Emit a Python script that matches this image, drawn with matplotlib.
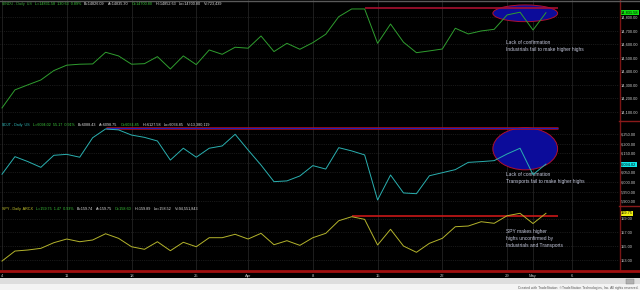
import matplotlib
matplotlib.use("Agg")
import matplotlib.pyplot as plt
from matplotlib.patches import Ellipse, Rectangle
from matplotlib.lines import Line2D
from matplotlib.ticker import FuncFormatter

# daily closes, trading days 4 Mar .. 2 May (index 0..42)
indu = [14130, 14263, 14300, 14336, 14405, 14445, 14452, 14454, 14540, 14513,
        14452, 14456, 14508, 14417, 14513, 14449, 14557, 14525, 14577, 14570,
        14660, 14545, 14606, 14562, 14611, 14673, 14802, 14859, 14859, 14606,
        14748, 14614, 14537, 14550, 14564, 14717, 14675, 14697, 14709, 14815,
        14835, 14704, 14831.58]

djt = [6041, 6133, 6107, 6077, 6140, 6145, 6130, 6232, 6278, 6273,
       6246, 6234, 6215, 6115, 6177, 6130, 6177, 6189, 6250, 6168,
       6089, 6002, 6006, 6032, 6086, 6068, 6180, 6163, 6142, 5906,
       6037, 5943, 5939, 6033, 6049, 6065, 6103, 6107, 6112, 6147,
       6177, 6039, 6094.02]

spy = [152.88, 154.32, 154.47, 154.71, 155.52, 156.05, 155.66, 155.91, 156.81, 156.15,
       154.94, 154.57, 155.66, 154.37, 155.58, 154.94, 156.24, 156.24, 156.73, 156.05,
       156.87, 155.23, 155.81, 155.14, 156.24, 156.87, 158.68, 159.26, 158.88, 155.19,
       157.45, 155.04, 154.14, 155.43, 156.15, 157.82, 157.92, 158.54, 158.31, 159.40,
       159.75, 158.28, 159.75]

tick_pos = [0, 5, 10, 15, 19, 24, 29, 34, 39, 41, 44]
tick_lbl = ["4", "11", "18", "25", "Apr", "8", "15", "22", "29", "May", "6"]

indu_ticks = [14100, 14200, 14300, 14400, 14500, 14600, 14700, 14800]
djt_ticks = [5900, 5950, 6000, 6050, 6100, 6150, 6200, 6250]
spy_ticks = [153, 155, 157, 159]

# resistance lines drawn on the chart: (start index, level)
indu_res = (28, 14866)
djt_res = (8, 6283)
spy_res = (27, 159.36)
res_end = 42.9

W, H = 640, 290
FONT = "Liberation Sans"

fig = plt.figure(figsize=(W / 100, H / 100), dpi=100, facecolor="black")


def fy(y):
    # pixel from top -> figure fraction
    return 1 - y / H


def panel(top, bottom, ylim, ticks):
    ax = fig.add_axes([0, fy(bottom), 619 / W, (bottom - top) / H])
    ax.set_facecolor("black")
    for s in ax.spines.values():
        s.set_visible(False)
    ax.set_xlim(-0.154, 47.64)
    ax.set_ylim(*ylim)
    ax.yaxis.tick_right()
    ax.set_yticks(ticks)
    ax.yaxis.set_major_formatter(FuncFormatter(lambda v, p: f"{v:,.2f}"))
    ax.tick_params(axis="y", length=0, pad=1.5, labelsize=2.8, labelcolor="#d0d0d0")
    ax.set_xticks(tick_pos)
    ax.tick_params(axis="x", length=0, labelbottom=False)
    ax.grid(axis="y", color="#303030", ls=":", lw=0.5)
    ax.grid(axis="x", color="#2a2a2a", ls="-", lw=0.5)
    for lab in ax.get_yticklabels():
        lab.set_family(FONT)
    return ax


ax1 = panel(0, 121, (14033.7, 14925), indu_ticks)
ax2 = panel(121, 206, (5874.6, 6319.6), djt_ticks)
ax3 = panel(206, 271, (151.45, 160.8), spy_ticks)

ax3.set_xticks(tick_pos, tick_lbl)
ax3.tick_params(axis="x", labelbottom=True, labelsize=3, labelcolor="#c0c0c0", pad=2)
for lab in ax3.get_xticklabels():
    lab.set_family(FONT)

x = range(len(indu))
ax1.plot(x, indu, color="#2f9e2f", lw=0.7, zorder=4)
ax2.plot(x, djt, color="#2ab0b0", lw=0.7, zorder=4)
ax3.plot(x, spy, color="#b4b42c", lw=0.7, zorder=4)

# highlight ellipses
ax1.add_patch(Ellipse((40.4, 14827), 5.0, 123, fc="#0c0c9a", ec="#b01030", lw=0.7, zorder=2))
ax2.add_patch(Ellipse((40.4, 6174), 5.0, 220, fc="#0c0c9a", ec="#b01030", lw=0.7, zorder=2))

# resistance lines
ax1.hlines(indu_res[1], indu_res[0], res_end, color="#a81030", lw=1.2, zorder=3)
ax2.hlines(djt_res[1], djt_res[0], res_end, color="#b01020", lw=1.8, zorder=3)
ax2.hlines(djt_res[1], djt_res[0], res_end, color="#2020c0", lw=0.7, zorder=3)
ax3.hlines(spy_res[1], spy_res[0], res_end, color="#c81818", lw=1.2, zorder=3)

note_kw = dict(color="#c4c8dc", fontsize=3.5, family=FONT, va="top", ha="left", linespacing=1.5)
ax1.text(38.9, 14630, "Lack of confirmation\nIndustrials fail to make higher highs", **note_kw)
ax2.text(38.9, 6053, "Lack of confirmation\nTransports fail to make higher highs", **note_kw)
ax3.text(38.9, 157.49, "SPY makes higher\nhighs unconfirmed by\nIndustrials and Transports", **note_kw)

# last price boxes on the right scale
for ax, val, txt, col in [(ax1, indu[-1], "14,831.58", "#10e010"),
                          (ax2, djt[-1], "6,094.02", "#10e8e8"),
                          (ax3, spy[-1], "159.75", "#f0f010")]:
    ax.text(1.003, val, txt, transform=ax.get_yaxis_transform(), fontsize=2.8, family=FONT,
            color="black", va="center", ha="left", clip_on=False,
            bbox=dict(boxstyle="square,pad=0.15", fc=col, ec="none"))

# headers
r = fig.canvas.get_renderer()


def header(y, parts):
    xp = 2
    for s, c in parts:
        t = fig.text(xp / W, fy(y), s, color=c, fontsize=2.7, family=FONT, va="center")
        xp += t.get_window_extent(r).width + 3


G, WH = "#3cc83c", "#e0e0e0"
header(4, [("$INDU - Daily  US", "#38a838"), ("L=14831.58  130.63  0.89%", G),
           ("B=14826.09", WH), ("A=14835.30", WH), ("O=14700.80", G),
           ("H=14852.63", WH), ("Lo=14700.80", WH), ("V=723,439", WH)])
header(125, [("$DJT - Daily  US", "#30b8b8"), ("L=6094.02  55.17  0.91%", G),
             ("B=6088.43", WH), ("A=6098.75", WH), ("O=6034.85", G),
             ("H=6127.58", WH), ("Lo=6034.85", WH), ("V=13,380,119", WH)])
header(209, [("SPY - Daily  ARCX", "#c8c830"), ("L=159.75  1.47  0.93%", G),
             ("B=159.74", WH), ("A=159.75", WH), ("O=158.60", G),
             ("H=159.89", WH), ("Lo=158.52", WH), ("V=94,551,843", WH)])

# frame lines
fig.add_artist(Line2D([619.5 / W] * 2, [fy(0), fy(271)], color="#7a1515", lw=1))
for yy in (121, 206):
    fig.add_artist(Line2D([619 / W, 1], [fy(yy)] * 2, color="#8a1a1a", lw=1))
fig.add_artist(Line2D([0, 1], [fy(271)] * 2, color="#a01010", lw=2))
fig.add_artist(Line2D([0, 1], [fy(0.5)] * 2, color="#5a5a5a", lw=1))

# bottom status strip
fig.add_artist(Rectangle((0, 0), 1, (H - 278) / H, transform=fig.transFigure,
                         fc="#dedede", ec="none"))
fig.add_artist(Rectangle((0, 0), 1, (H - 284) / H, transform=fig.transFigure,
                         fc="#f4f4f4", ec="none"))
fig.add_artist(Rectangle((626 / W, fy(284)), 8 / W, 5 / H, transform=fig.transFigure,
                         fc="#b0b0b0", ec="#808080", lw=0.3))
fig.text(638 / W, fy(287.5), "Created with TradeStation. \u00a9TradeStation Technologies, Inc. All rights reserved.",
         fontsize=2.4, family=FONT, color="#555555", ha="right", va="center")

fig.savefig("out.png", dpi=100, facecolor="black")
